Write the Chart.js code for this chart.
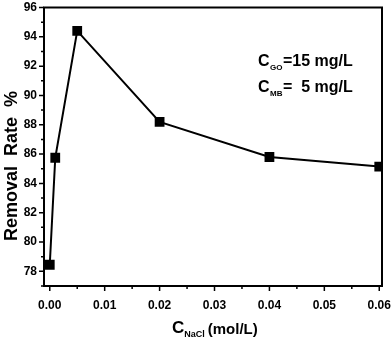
<!DOCTYPE html>
<html>
<head>
<meta charset="utf-8">
<script src="https://cdn.jsdelivr.net/npm/chart.js@4"></script>
<style>
  html, body { margin: 0; padding: 0; background: #fff; }
  #wrap { width: 392px; height: 342px; }
</style>
</head>
<body>
<div id="wrap"><canvas id="grafica"></canvas></div>
<script>
// datos
const concNaCl = [0, 0.001, 0.005, 0.02, 0.04, 0.06];
const remocion = [78.45, 85.75, 94.4, 88.2, 85.8, 85.15];
const ticksX = [0, 0.01, 0.02, 0.03, 0.04, 0.05, 0.06];
const ticksY = [78, 80, 82, 84, 86, 88, 90, 92, 94, 96];

const FUENTE = "Arial, 'Liberation Sans', sans-serif";

// dibuja marco, ticks menores/mayores, titulos con subindices y el texto de condiciones
const extras = {
  id: 'extras',
  afterDraw(chart) {
    const ctx = chart.ctx;
    const a = chart.chartArea;
    const sx = chart.scales.x;
    const sy = chart.scales.y;
    ctx.save();
    ctx.strokeStyle = '#000';
    ctx.lineWidth = 2;
    ctx.strokeRect(a.left, a.top, a.right - a.left, a.bottom - a.top);

    ctx.lineWidth = 1.5;
    ctx.beginPath();
    ticksX.forEach((v, i) => {
      const px = sx.getPixelForValue(v);
      ctx.moveTo(px, a.bottom); ctx.lineTo(px, a.bottom + 5);
      if (i < ticksX.length - 1) {
        const m = sx.getPixelForValue((v + ticksX[i + 1]) / 2);
        ctx.moveTo(m, a.bottom); ctx.lineTo(m, a.bottom + 3);
      }
    });
    for (let v = 77; v <= 96; v++) {
      const py = sy.getPixelForValue(v);
      const largo = v % 2 === 0 ? 5 : 3;
      ctx.moveTo(a.left, py); ctx.lineTo(a.left - largo, py);
    }
    ctx.stroke();

    ctx.fillStyle = '#000';
    ctx.textBaseline = 'alphabetic';
    ctx.textAlign = 'left';

    // titulo eje x: C_NaCl (mol/L)
    let x = 172;
    ctx.font = 'bold 17px ' + FUENTE;
    ctx.fillText('C', x, 333);
    x += ctx.measureText('C').width;
    ctx.font = 'bold 9px ' + FUENTE;
    ctx.fillText('NaCl', x, 337);
    x += ctx.measureText('NaCl').width + 3;
    ctx.font = 'bold 15px ' + FUENTE;
    ctx.fillText('(mol/L)', x, 334);

    // condiciones
    const linea = (sub, resto, y) => {
      let xx = 258;
      ctx.font = 'bold 16px ' + FUENTE;
      ctx.fillText('C', xx, y);
      xx += ctx.measureText('C').width + 0.5;
      ctx.font = 'bold 8px ' + FUENTE;
      ctx.fillText(sub, xx, y + 4);
      xx += ctx.measureText(sub).width + 0.5;
      ctx.font = 'bold 16px ' + FUENTE;
      ctx.fillText(resto, xx, y);
    };
    linea('GO', '=15 mg/L', 66);
    linea('MB', '=  5 mg/L', 92);

    // titulo eje y
    ctx.translate(12, 166);
    ctx.rotate(-Math.PI / 2);
    ctx.textAlign = 'center';
    ctx.textBaseline = 'middle';
    ctx.font = 'bold 18px ' + FUENTE;
    ctx.fillText('Removal  Rate  %', 0, 0);
    ctx.restore();
  }
};

new Chart(document.querySelector('#grafica'), {
  type: 'line',
  data: {
    datasets: [{
      data: concNaCl.map((c, i) => ({ x: c, y: remocion[i] })),
      borderColor: '#000',
      backgroundColor: '#000',
      borderWidth: 2,
      pointStyle: 'rect',
      pointRadius: 5.5,
      pointHoverRadius: 5.5,
      tension: 0
    }]
  },
  options: {
    responsive: true,
    maintainAspectRatio: false,
    animation: false,
    layout: { padding: { top: 7, right: 10, left: 0, bottom: 0 } },
    plugins: { legend: { display: false }, tooltip: { enabled: false } },
    scales: {
      x: {
        type: 'linear',
        min: -0.00105,
        max: 0.0605,
        grid: { display: false, drawTicks: false },
        border: { display: false },
        afterBuildTicks: s => { s.ticks = ticksX.map(v => ({ value: v })); },
        afterFit: s => { s.height = 56; s.paddingLeft = 0; s.paddingRight = 0; },
        ticks: {
          autoSkip: false,
          maxRotation: 0,
          padding: 12,
          color: '#000',
          font: { family: FUENTE, size: 12, weight: 'bold' },
          callback: v => Number(v).toFixed(2)
        }
      },
      y: {
        min: 77,
        max: 96,
        grid: { display: false, drawTicks: false },
        border: { display: false },
        afterBuildTicks: s => { s.ticks = ticksY.map(v => ({ value: v })); },
        afterFit: s => { s.width = 44; s.paddingTop = 0; s.paddingBottom = 0; },
        ticks: {
          autoSkip: false,
          padding: 7,
          color: '#000',
          font: { family: FUENTE, size: 12, weight: 'bold' },
          callback: v => String(v)
        }
      }
    }
  },
  plugins: [extras]
});
</script>
</body>
</html>
